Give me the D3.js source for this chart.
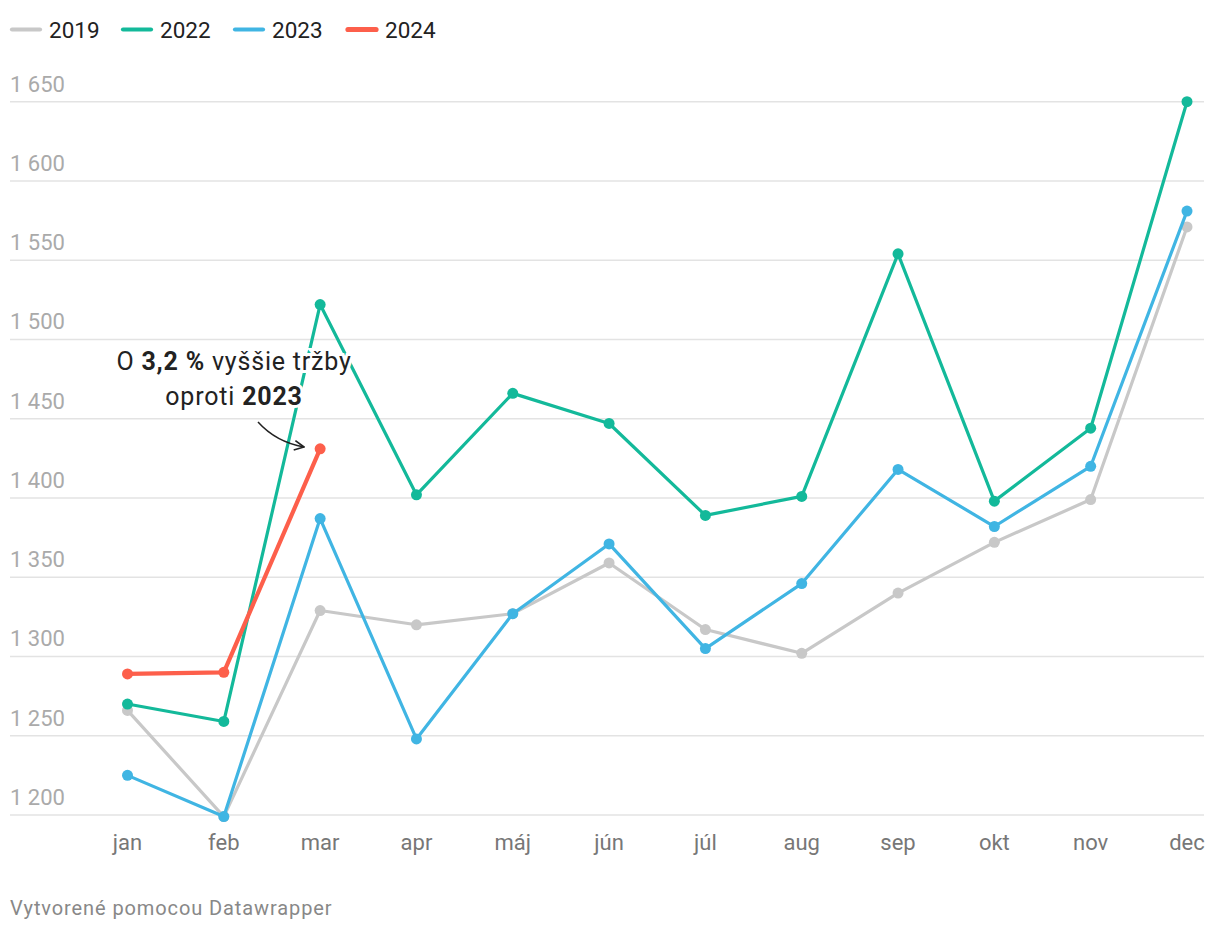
<!DOCTYPE html>
<html>
<head>
    <meta charset="utf-8">
    <title>Tržby</title>
    <script src="https://d3js.org/d3.v7.min.js"></script>
    <style>
        body { margin: 0; background: #fff; }
        svg text { font-family: Roboto, "Noto Sans", sans-serif; }
    </style>
</head>
<body>
    <svg id="chart"></svg>
    <script>
        // data
        var months = ["jan", "feb", "mar", "apr", "máj", "jún", "júl", "aug", "sep", "okt", "nov", "dec"];
        var yTicks = [1200, 1250, 1300, 1350, 1400, 1450, 1500, 1550, 1600, 1650];
        var v2019 = [1266, 1199, 1329, 1320, 1327, 1359, 1317, 1302, 1340, 1372, 1399, 1571];
        var v2022 = [1270, 1259, 1522, 1402, 1466, 1447, 1389, 1401, 1554, 1398, 1444, 1650];
        var v2023 = [1225, 1199, 1387, 1248, 1327, 1371, 1305, 1346, 1418, 1382, 1420, 1581];
        var v2024 = [1289, 1290, 1431];

        var series = [
            { name: "2019", values: v2019, color: "#c8c8c8", width: 3.2 },
            { name: "2022", values: v2022, color: "#13b99a", width: 3.2 },
            { name: "2023", values: v2023, color: "#40b5e3", width: 3.2 },
            { name: "2024", values: v2024, color: "#fd5f4b", width: 4.2 }
        ];

        var W = 1220, H = 932;
        var svg = d3.select("#chart").attr("width", W).attr("height", H);

        var x = d3.scalePoint().domain(months).range([127.5, 1187]);
        var y = d3.scaleLinear().domain([1200, 1650]).range([815, 101.7]);

        // gridlines + y labels
        var fmt = function (d) { return d3.format(",")(d).replace(",", " "); };
        var grid = svg.append("g");
        grid.selectAll("line").data(yTicks).enter().append("line")
            .attr("x1", 10).attr("x2", 1204)
            .attr("y1", function (d) { return y(d); })
            .attr("y2", function (d) { return y(d); })
            .attr("stroke", "#e3e3e3").attr("stroke-width", 1.5);
        grid.selectAll("text").data(yTicks).enter().append("text")
            .attr("x", 10)
            .attr("y", function (d) { return y(d) - 10; })
            .attr("fill", "#aaaaaa").style("font-size", "22px")
            .text(fmt);

        // x labels
        svg.append("g").selectAll("text").data(months).enter().append("text")
            .attr("x", function (d) { return x(d); })
            .attr("y", 850)
            .attr("text-anchor", "middle")
            .attr("fill", "#777").style("font-size", "22px")
            .text(function (d) { return d; });

        // lines
        var line = d3.line()
            .x(function (d, i) { return x(months[i]); })
            .y(function (d) { return y(d); });

        series.forEach(function (s) {
            var g = svg.append("g");
            g.append("path").datum(s.values)
                .attr("d", line)
                .attr("fill", "none")
                .attr("stroke", s.color)
                .attr("stroke-width", s.width)
                .attr("stroke-linejoin", "round");
            g.selectAll("circle").data(s.values).enter().append("circle")
                .attr("cx", function (d, i) { return x(months[i]); })
                .attr("cy", function (d) { return y(d); })
                .attr("r", 5.5)
                .attr("fill", s.color);
        });

        // legend
        var legendX = [11, 122, 234, 347];
        var leg = svg.append("g").selectAll("g").data(series).enter().append("g")
            .attr("transform", function (d, i) { return "translate(" + legendX[i] + ",29.5)"; });
        leg.append("line")
            .attr("x1", 1).attr("x2", 29)
            .attr("stroke", function (d) { return d.color; })
            .attr("stroke-width", function (d) { return d.width + 1; })
            .attr("stroke-linecap", "round");
        leg.append("text")
            .attr("x", 38).attr("y", 8)
            .attr("fill", "#222").style("font-size", "22.5px")
            .text(function (d) { return d.name; });

        // annotation
        var ann = svg.append("text")
            .attr("text-anchor", "middle")
            .attr("fill", "#222")
            .attr("stroke", "#fff").attr("stroke-width", 6)
            .attr("paint-order", "stroke")
            .style("font-size", "25px")
            .style("letter-spacing", "0.8px");
        var l1 = ann.append("tspan").attr("x", 234).attr("y", 370);
        l1.append("tspan").text("O ");
        l1.append("tspan").style("font-weight", "bold").text("3,2 %");
        l1.append("tspan").text(" vyššie tržby");
        var l2 = ann.append("tspan").attr("x", 234).attr("y", 405);
        l2.append("tspan").text("oproti ");
        l2.append("tspan").style("font-weight", "bold").text("2023");

        var defs = svg.append("defs");
        defs.append("marker")
            .attr("id", "arrow")
            .attr("viewBox", "0 0 10 10")
            .attr("refX", 9).attr("refY", 5)
            .attr("markerWidth", 12).attr("markerHeight", 12)
            .attr("markerUnits", "userSpaceOnUse")
            .attr("orient", "auto")
            .append("path")
            .attr("d", "M1,1 L9,5 L1,9")
            .attr("fill", "none").attr("stroke", "#222").attr("stroke-width", 1.4);
        svg.append("path")
            .attr("d", "M258,422 Q276,442 304,447")
            .attr("fill", "none").attr("stroke", "#222").attr("stroke-width", 1.5)
            .attr("marker-end", "url(#arrow)");

        // footer
        svg.append("text")
            .attr("x", 10).attr("y", 915)
            .attr("fill", "#888").style("font-size", "20px")
            .style("letter-spacing", "0.9px")
            .text("Vytvorené pomocou Datawrapper");
    </script>
</body>
</html>
